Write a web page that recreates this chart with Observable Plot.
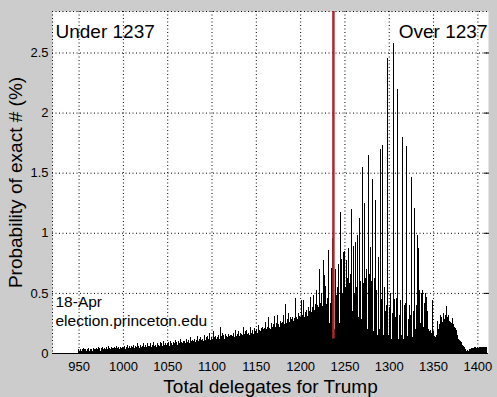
<!DOCTYPE html>
<html><head><meta charset="utf-8">
<script src="https://cdn.jsdelivr.net/npm/d3@7"></script>
<script src="https://cdn.jsdelivr.net/npm/@observablehq/plot@0.6"></script>
<style>
html,body{margin:0;padding:0;background:#cccccc;}
#chart svg{display:block;}
</style></head><body><div id="chart"></div>
<script>
// Probability (%) of Trump ending with exactly N delegates, N = 950 ... 1410
const firstDelegate = 950;
const prob950 = [
  0.03,0.02,0.03,0.02,0.03,0.04,0.02,0.03,0.03,0.02,
  0.03,0.04,0.02,0.03,0.05,0.03,0.02,0.04,0.03,0.03,
  0.04,0.03,0.05,0.03,0.04,0.02,0.04,0.05,0.03,0.04,
  0.03,0.05,0.04,0.03,0.06,0.04,0.03,0.05,0.04,0.04,
  0.05,0.03,0.04,0.06,0.04,0.05,0.03,0.05,0.04,0.06];
const prob1000 = [
  0.05,0.04,0.06,0.03,0.05,0.07,0.04,0.05,0.06,0.04,
  0.06,0.05,0.07,0.04,0.06,0.05,0.08,0.05,0.06,0.04,
  0.07,0.05,0.06,0.08,0.05,0.06,0.07,0.05,0.08,0.06,
  0.06,0.08,0.05,0.07,0.06,0.09,0.06,0.07,0.05,0.08,
  0.07,0.06,0.09,0.07,0.08,0.06,0.10,0.07,0.08,0.07];
const prob1050 = [
  0.08,0.07,0.09,0.06,0.10,0.08,0.07,0.09,0.08,0.11,
  0.08,0.09,0.07,0.10,0.08,0.12,0.09,0.08,0.10,0.09,
  0.10,0.08,0.12,0.09,0.11,0.08,0.13,0.10,0.09,0.11,
  0.10,0.12,0.09,0.11,0.14,0.10,0.12,0.09,0.13,0.11,
  0.12,0.10,0.15,0.11,0.13,0.10,0.14,0.12,0.17,0.11];
const prob1100 = [
  0.13,0.12,0.18,0.13,0.12,0.14,0.12,0.13,0.15,0.12,
  0.22,0.14,0.17,0.13,0.15,0.12,0.16,0.14,0.13,0.16,
  0.14,0.15,0.13,0.15,0.14,0.17,0.13,0.19,0.14,0.16,
  0.15,0.18,0.14,0.17,0.16,0.15,0.22,0.16,0.18,0.15,
  0.19,0.16,0.17,0.15,0.22,0.17,0.19,0.16,0.18,0.21];
const prob1150 = [
  0.18,0.20,0.17,0.23,0.19,0.18,0.21,0.22,0.19,0.20,
  0.21,0.26,0.20,0.22,0.30,0.21,0.23,0.20,0.25,0.22,
  0.24,0.31,0.22,0.25,0.23,0.32,0.24,0.22,0.27,0.25,
  0.26,0.32,0.24,0.27,0.41,0.25,0.28,0.33,0.26,0.30,
  0.28,0.30,0.27,0.14,0.29,0.46,0.30,0.28,0.33,0.31];
const prob1200 = [
  0.30,0.35,0.44,0.32,0.44,0.30,0.34,0.36,0.31,0.38,
  0.33,0.35,0.47,0.34,0.38,0.48,0.36,0.41,0.37,0.52,
  0.40,0.38,0.70,0.42,0.50,0.39,0.77,0.65,0.44,0.56,
  0.41,0.46,0.86,0.25,0.42,0.71,0.48,0.96,0.98,0.20,
  0.70,0.48,0.55,0.74,0.25,0.60,1.17,0.78,0.50,0.84];
const prob1250 = [
  0.85,0.55,0.77,0.62,0.30,0.87,0.58,0.66,1.20,0.35,
  0.89,0.50,0.25,0.92,0.55,0.98,0.30,1.12,0.60,0.28,
  1.55,0.58,0.22,1.25,0.62,0.70,0.20,1.65,0.66,0.88,
  0.25,0.60,1.45,0.18,0.62,1.27,0.52,0.15,0.80,0.48,
  0.20,1.70,0.45,1.73,0.15,0.55,0.35,0.18,0.40,2.45];
const prob1300 = [
  0.15,0.38,0.50,0.12,0.33,2.58,0.45,0.14,0.30,0.46,
  2.20,0.12,0.32,0.44,0.15,0.40,1.80,0.12,0.40,0.42,
  1.72,0.14,0.28,0.40,0.15,0.32,1.46,0.13,0.35,1.21,
  0.20,0.40,0.98,0.18,0.87,0.52,0.25,0.50,0.52,0.22,
  0.42,0.50,0.40,0.47,0.35,0.20,0.18,0.19,0.17,0.44];
const prob1350 = [
  0.18,0.15,0.14,0.13,0.15,0.27,0.20,0.24,0.32,0.26,
  0.30,0.26,0.33,0.28,0.32,0.39,0.30,0.32,0.28,0.27,
  0.26,0.25,0.29,0.24,0.22,0.21,0.19,0.17,0.15,0.12,
  0.11,0.10,0.09,0.07,0.06,0.05,0.04,0.03,0.02,0.025,
  0.02,0.03,0.03,0.04,0.03,0.04,0.04,0.05,0.05,0.04];
const prob1400 = [0.05,0.04,0.05,0.05,0.05,0.05,0.05,0.05,0.05,0.05,0.05];

const xTicks = [950,1000,1050,1100,1150,1200,1250,1300,1350,1400];
const yTicks = [0,0.5,1,1.5,2,2.5];
const xDomain = [920, 1412];
const yDomain = [0, 2.845];
const threshold = 1237;
const thresholdBase = 0.12;
const labelUnder = "Under 1237";
const labelOver = "Over 1237";
const sourceNote = "18-Apr\nelection.princeton.edu";
const xTitle = "Total delegates for Trump";
const yTitle = "Probability of exact # (%)";

const values = [...prob950, ...prob1000, ...prob1050, ...prob1100, ...prob1150,
                ...prob1200, ...prob1250, ...prob1300, ...prob1350, ...prob1400];
const data = values.map((v, i) => ({x: firstDelegate + i, v}));

const font = "'Liberation Sans', Arial, Helvetica, sans-serif";
const dotted = {stroke: "black", strokeOpacity: 1, strokeDasharray: "1,2.5", strokeWidth: 1};

const chart = Plot.plot({
  width: 497, height: 397,
  marginLeft: 52, marginRight: 9, marginTop: 11, marginBottom: 44,
  style: {background: "#cccccc", fontFamily: font, fontSize: "13px", color: "black", overflow: "visible"},
  x: {domain: xDomain, ticks: xTicks},
  y: {domain: yDomain, ticks: yTicks},
  marks: [
    Plot.frame({fill: "white", stroke: "none"}),
    Plot.gridX(xTicks, dotted),
    Plot.gridY(yTicks.filter(t => t > 0), dotted),
    Plot.ruleX([xDomain[0]], dotted),
    Plot.ruleY([yDomain[1]], dotted),
    Plot.rectY(data, {x1: d => d.x - 0.55, x2: d => d.x + 0.55, y: "v", fill: "black", inset: 0, shapeRendering: "crispEdges"}),
    Plot.ruleY([0], {stroke: "black"}),
    Plot.ruleX([threshold], {y1: thresholdBase, y2: yDomain[1], stroke: "#b0252a", strokeWidth: 2.5}),
    Plot.axisX({ticks: xTicks, tickSize: 0, tickPadding: 8, label: null, tickFormat: d => String(d)}),
    Plot.axisY({ticks: yTicks, tickSize: 0, tickPadding: 4, label: null, tickFormat: d => String(d)}),
    Plot.axisY({anchor: "right", ticks: yTicks.filter(t => t > 0), tickSize: -5, tickFormat: () => "", label: null}),
    Plot.text([labelUnder], {text: d => d, frameAnchor: "top-left", dx: 3, dy: 12.5, lineAnchor: "top", textAnchor: "start", fontSize: 19, fill: "black"}),
    Plot.text([labelOver], {text: d => d, frameAnchor: "top-right", dx: -1, dy: 12.5, lineAnchor: "top", textAnchor: "end", fontSize: 19, fill: "black"}),
    Plot.text([sourceNote], {text: d => d, frameAnchor: "bottom-left", dx: 3, dy: -28, lineAnchor: "bottom", textAnchor: "start", fontSize: 15.5, lineHeight: 1.19, fill: "black"}),
    Plot.text([xTitle], {text: d => d, frameAnchor: "bottom", dy: 39, lineAnchor: "bottom", textAnchor: "middle", fontSize: 19, fill: "black"}),
    Plot.text([yTitle], {text: d => d, frameAnchor: "left", dx: -30.5, rotate: -90, lineAnchor: "bottom", textAnchor: "middle", fontSize: 19, fill: "black"})
  ]
});
document.getElementById("chart").appendChild(chart);
</script>
</body></html>
